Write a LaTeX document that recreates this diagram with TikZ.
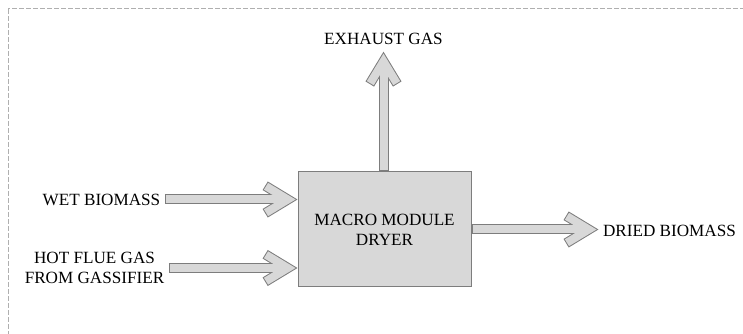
\documentclass[tikz,border=0pt]{standalone}
\usepackage{fontspec}
\setmainfont{Liberation Serif}
\usetikzlibrary{decorations.markings, positioning}
\definecolor{flowfill}{RGB}{216,216,216}
\definecolor{flowline}{RGB}{125,125,125}
\definecolor{frameline}{RGB}{175,175,175}
\tikzset{
  chevronline/.style={draw=flowline, line width=7.5pt, line join=miter, line cap=butt, shorten >=0pt, shorten <=0pt},
  chevronfill/.style={draw=flowfill, line width=6pt, line join=miter, line cap=butt, shorten >=0pt, shorten <=0pt},
  flowarrow/.style={
    draw=flowline, line width=7.5pt, shorten >=9pt,
    postaction={decorate, decoration={markings, mark=at position 1 with {
      \draw[chevronline] (-24.24pt,10.3pt) -- (-7.24pt,0pt) -- (-24.24pt,-10.3pt);}}},
    postaction={draw=flowfill, line width=6pt, shorten >=9pt, shorten <=0.75pt},
    postaction={decorate, decoration={markings, mark=at position 1 with {
      \draw[chevronfill] (-23.6pt,9.91pt) -- (-7.24pt,0pt) -- (-23.6pt,-9.91pt);}}}
  },
  stream/.style={font=\fontsize{12.85pt}{15pt}\selectfont, align=center,
    inner xsep=3.3pt, inner ysep=5pt, text=black}
}

\begin{document}
\begin{tikzpicture}[x=0.75pt, y=-0.75pt]
  \useasboundingbox (0,0) rectangle (743,334);
  \clip (0,0) rectangle (743,334);
  \draw[frameline, line width=0.75pt, dash pattern=on 3.75pt off 1.5pt] (8,9) rectangle (760,350);
  %
  \node[stream, draw=flowline, fill=flowfill, line width=0.75pt,
    minimum width=129.75pt, minimum height=86.25pt] (dryer) at (384.5,229.5) {MACRO MODULE\\DRYER};
  \node[stream] (exhaust) at (383.5,39) {EXHAUST GAS};
  \node[stream] (wet) at (101.5,199.5) {WET BIOMASS};
  \node[stream] (hot) at (94.5,268) {HOT FLUE GAS\\FROM GASSIFIER};
  \node[stream] (dried) at (669.5,230.5) {DRIED BIOMASS};
  %
  \draw[flowarrow] (wet.east) -- (wet.east -| dryer.west);
  \draw[flowarrow] (hot.east) -- (hot.east -| dryer.west);
  \draw[flowarrow] (exhaust.south |- dryer.north) -- (exhaust.south);
  \draw[flowarrow] (dryer.east) -- (dryer.east -| dried.west);
\end{tikzpicture}
\end{document}
